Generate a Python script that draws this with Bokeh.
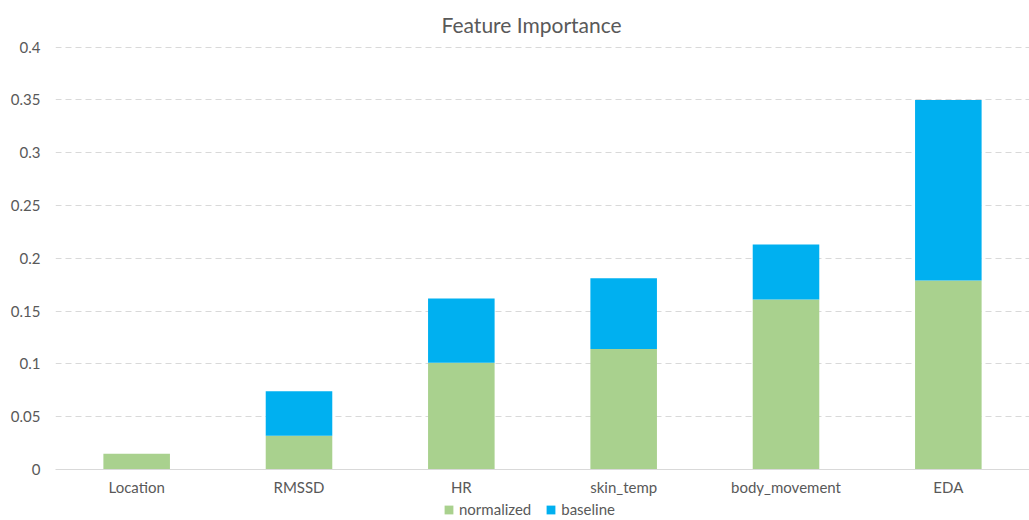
from bokeh.plotting import figure
from bokeh.models import FixedTicker, Legend, LegendItem, ColumnDataSource, Range1d
from bokeh.layouts import column
from bokeh.embed import file_html
from bokeh.resources import INLINE

categories = ["Location", "RMSSD", "HR", "skin_temp", "body_movement", "EDA"]
normalized = [0.015, 0.032, 0.101, 0.114, 0.161, 0.179]
baseline = [0.0, 0.042, 0.061, 0.067, 0.052, 0.171]
series = ["normalized", "baseline"]
colors = ["#A9D18E", "#00B0F0"]
y_ticks = [0, 0.05, 0.1, 0.15, 0.2, 0.25, 0.3, 0.35, 0.4]
y_tick_labels = ["0", "0.05", "0.1", "0.15", "0.2", "0.25", "0.3", "0.35", "0.4"]

source = ColumnDataSource(data=dict(cat=categories, normalized=normalized, baseline=baseline))

p = figure(x_range=categories, y_range=Range1d(0, 0.4015), width=1029, height=498,
           output_backend="svg", toolbar_location=None,
           min_border_left=55, min_border_right=0, min_border_top=45, min_border_bottom=29)
p.outline_line_color = None
p.background_fill_color = "white"
p.border_fill_color = "white"

p.title.text = "Feature Importance"
p.title.align = "left"
p.title.text_font = "Lato"
p.title.text_font_size = "21px"
p.title.text_font_style = "normal"
p.title.text_color = "#595959"
p.title.offset = 386
p.title.standoff = 18

renderers = p.vbar_stack(series, x="cat", width=0.41, color=colors, source=source, line_color=None)

p.xgrid.grid_line_color = None
p.ygrid.grid_line_color = "#d9d9d9"
p.ygrid.grid_line_dash = "6 4"
p.ygrid.grid_line_width = 1

p.yaxis.ticker = FixedTicker(ticks=y_ticks)
p.yaxis.major_label_overrides = {t: l for t, l in zip(y_ticks, y_tick_labels)}
p.yaxis.axis_line_color = None
p.yaxis.major_tick_line_color = None
p.yaxis.minor_tick_line_color = None
p.yaxis.major_tick_out = 0
p.yaxis.major_tick_in = 0
p.yaxis.major_label_text_font = "Lato"
p.yaxis.major_label_text_font_size = "15px"
p.yaxis.major_label_text_color = "#595959"
p.yaxis.major_label_standoff = 15

p.xaxis.axis_line_color = "#d9d9d9"
p.xaxis.major_tick_line_color = None
p.xaxis.minor_tick_line_color = None
p.xaxis.major_tick_out = 0
p.xaxis.major_tick_in = 0
p.xaxis.major_label_text_font = "Lato"
p.xaxis.major_label_text_font_size = "15px"
p.xaxis.major_label_text_color = "#595959"
p.xaxis.major_label_standoff = 8

# legend strip below the chart
p2 = figure(x_range=categories, y_range=Range1d(1, 2), width=1029, height=22,
            output_backend="svg", toolbar_location=None,
            x_axis_location=None, y_axis_location=None, min_border=0)
p2.outline_line_color = None
p2.xgrid.grid_line_color = None
p2.ygrid.grid_line_color = None
p2.border_fill_color = "white"
leg_renderers = p2.vbar_stack(series, x="cat", width=0.41, color=colors, source=source, line_color=None)

legend = Legend(items=[LegendItem(label=s, renderers=[r]) for s, r in zip(series, leg_renderers)],
                orientation="horizontal", location=(388, 2))
legend.label_text_font = "Lato"
legend.label_text_font_size = "15px"
legend.label_text_color = "#595959"
legend.glyph_width = 11
legend.glyph_height = 11
legend.spacing = 14
legend.label_standoff = 5
legend.label_height = 14
legend.border_line_color = None
legend.background_fill_alpha = 0
legend.padding = 0
legend.margin = 0
p2.add_layout(legend, "center")

open("out.html", "w").write(file_html(column(p, p2, spacing=0), INLINE))
